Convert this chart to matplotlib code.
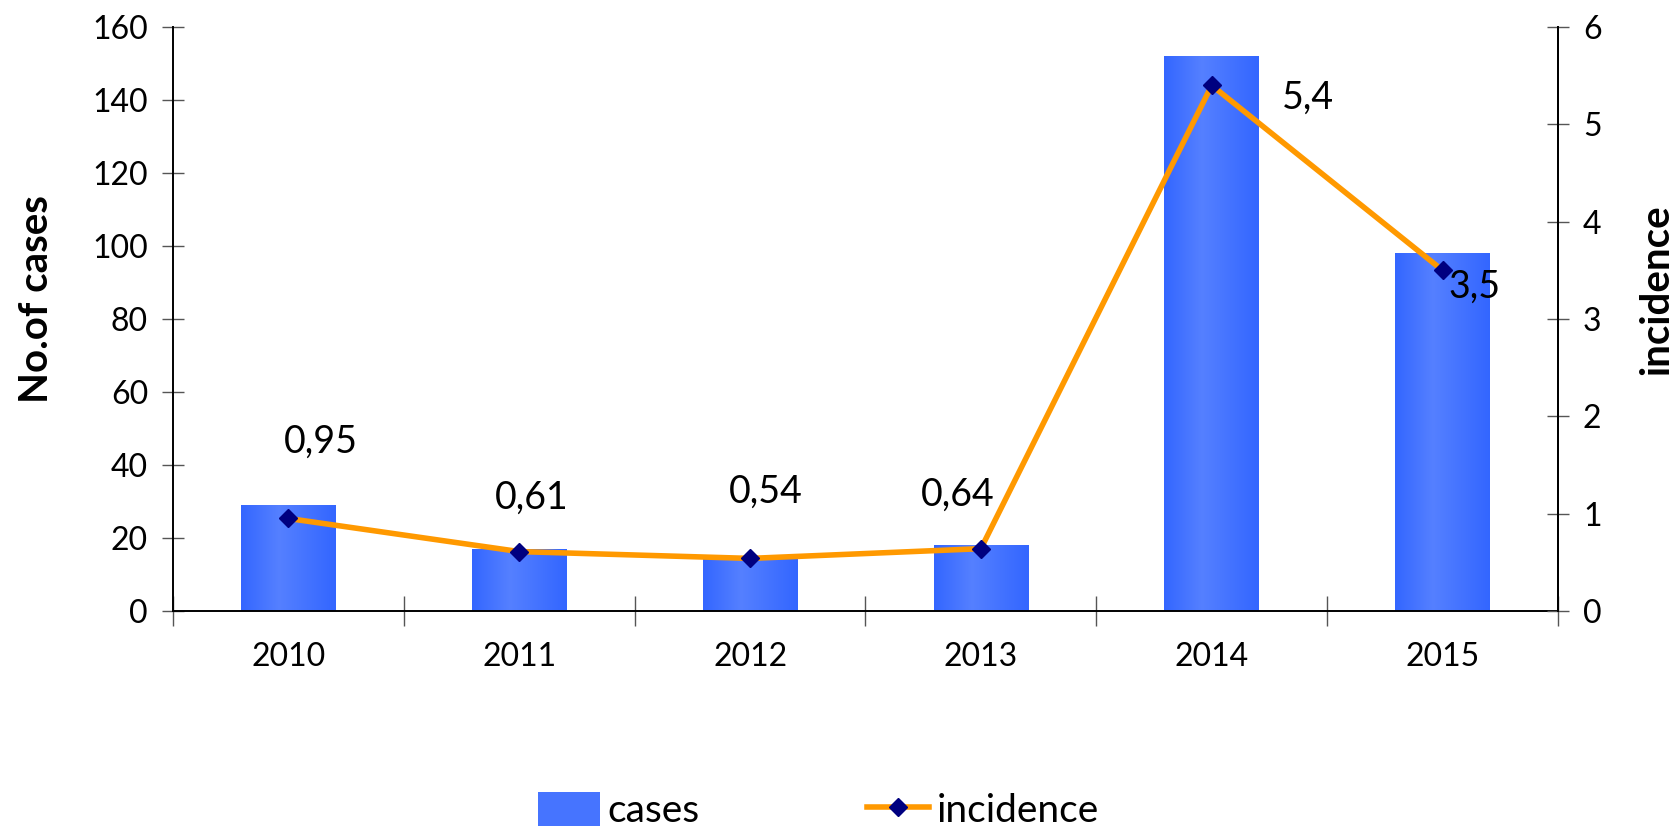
import matplotlib
matplotlib.use("Agg")
import matplotlib.pyplot as plt
import numpy as np
from matplotlib.colors import LinearSegmentedColormap
from matplotlib.lines import Line2D
from matplotlib.patches import Patch

plt.rcParams["font.family"] = ["Lato", "DejaVu Sans"]

years = ["2010", "2011", "2012", "2013", "2014", "2015"]
cases = [29, 17, 15, 18, 152, 98]
incidence = [0.95, 0.61, 0.54, 0.64, 5.4, 3.5]

# label offsets in points, one per point
label_offsets = [(23, 55), (9, 39), (11, 48), (-17, 39), (69, -9), (23, -12)]

BAR_EDGE = "#3366ff"
BAR_MID = "#5580ff"
LINE_COLOR = "#ff9900"
MARKER_COLOR = "#000080"

fig = plt.figure(figsize=(16.77, 8.30), dpi=100)
ax = fig.add_axes([0.1032, 0.2639, 0.8258, 0.7036])

x = np.arange(len(years))
bars = ax.bar(x, cases, width=0.41, color=BAR_EDGE, zorder=2)

# horizontal shading inside each bar
shade = LinearSegmentedColormap.from_list(
    "shade", [(0.0, BAR_EDGE), (0.4, BAR_MID), (1.0, BAR_EDGE)])
grad = np.linspace(0, 1, 256).reshape(1, -1)
for b in bars:
    x0, w, h = b.get_x(), b.get_width(), b.get_height()
    im = ax.imshow(grad, cmap=shade, extent=(x0, x0 + w, 0, h),
                   aspect="auto", zorder=2.1, interpolation="bicubic")
    im.set_clip_path(b)

ax.set_xlim(-0.5, len(years) - 0.5)
ax.set_ylim(0, 160)
ax.set_yticks(np.arange(0, 161, 20))
ax.set_xticks(x)
ax.set_xticklabels(years)
ax.set_xticks(np.arange(-0.5, len(years), 1.0), minor=True)
ax.tick_params(axis="x", which="major", length=0, pad=22, labelsize=23)
ax.tick_params(axis="x", which="minor", direction="inout", length=22,
               width=1.0, color="#555555")
ax.tick_params(axis="y", direction="inout", length=16, width=1.0,
               color="#555555", labelsize=23, pad=10)

ax.spines["top"].set_visible(False)
for side in ["left", "bottom", "right"]:
    ax.spines[side].set_linewidth(1.4)
    ax.spines[side].set_color("black")

ax2 = ax.twinx()
ax2.plot(x, incidence, color=LINE_COLOR, lw=4.0, marker="D",
         markersize=9, markerfacecolor=MARKER_COLOR,
         markeredgecolor=MARKER_COLOR, zorder=3)
ax2.set_ylim(0, 6)
ax2.set_yticks(np.arange(0, 7, 1))
ax2.tick_params(axis="y", direction="inout", length=16, width=1.0,
                color="#555555", labelsize=23, pad=10)
ax2.spines["top"].set_visible(False)
ax2.spines["right"].set_linewidth(1.4)
ax2.spines["left"].set_visible(False)
ax2.spines["bottom"].set_visible(False)

for xi, v, off in zip(x, incidence, label_offsets):
    ax2.annotate(f"{v}".replace(".", ","), (xi, v), xytext=off,
                 textcoords="offset points", ha="center", va="center",
                 fontsize=27)

fig.text(0.022, 0.64, "No.of cases", rotation=90, ha="center", va="center",
         fontsize=29, fontweight="bold")
fig.text(0.988, 0.651, "incidence", rotation=90, ha="center", va="center",
         fontsize=29, fontweight="bold")

handles = [
    Patch(facecolor="#4674ff", edgecolor="none"),
    Line2D([0], [0], color=LINE_COLOR, lw=4.0, marker="D", markersize=9,
           markerfacecolor=MARKER_COLOR, markeredgecolor=MARKER_COLOR),
]
fig.legend(handles, ["cases", "incidence"], loc="center",
           bbox_to_anchor=(0.488, 0.023), ncol=2, frameon=False, fontsize=28,
           handlelength=1.6, handleheight=0.95, handletextpad=0.2,
           columnspacing=4.3)

fig.savefig("out.png", dpi=100)
